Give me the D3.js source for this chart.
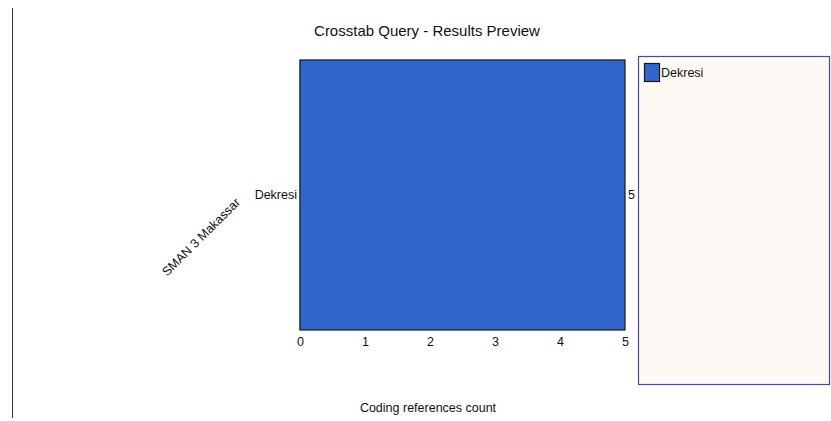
<!DOCTYPE html>
<html><head><meta charset="utf-8">
<script src="https://cdn.jsdelivr.net/npm/d3@7"></script>
<style>body{margin:0;background:#fff;} text{font-family:"Liberation Sans",Arial,sans-serif;fill:#111;}</style>
</head><body>
<svg id="c" width="831" height="421"></svg>
<script>
const title = "Crosstab Query - Results Preview";
const groups = ["SMAN 3 Makassar"];
const categories = ["Dekresi"];
const values = [5];
const xTicks = [0, 1, 2, 3, 4, 5];
const xTitle = "Coding references count";
const seriesNames = ["Dekresi"];
const colors = ["#3366cc"];

const svg = d3.select("#c");
// left page border line
svg.append("line").attr("x1",12.5).attr("x2",12.5).attr("y1",8).attr("y2",418).attr("stroke","#333").attr("stroke-width",1);

const x = d3.scaleLinear().domain([0, 5]).range([300, 625]);
const y = d3.scaleBand().domain(categories).range([60, 330]).padding(0);

svg.append("text").attr("x",427).attr("y",36).attr("text-anchor","middle").style("font-size","15px").text(title);

// y axis line
svg.append("line").attr("x1",299.5).attr("x2",299.5).attr("y1",60).attr("y2",330).attr("stroke","#bbb");

svg.selectAll("rect.bar").data(values).enter().append("rect")
  .attr("x", x(0)).attr("y", (d,i)=>y(categories[i]))
  .attr("width", d=>x(d)-x(0)).attr("height", y.bandwidth())
  .attr("fill", colors[0]).attr("stroke","#1a1a1a").attr("stroke-width",1.2);

svg.selectAll("text.val").data(values).enter().append("text")
  .attr("x", d=>x(d)+3).attr("y",(d,i)=>y(categories[i])+y.bandwidth()/2+4)
  .style("font-size","12.5px").text(d=>d);

svg.selectAll("text.cat").data(categories).enter().append("text")
  .attr("x",297).attr("y",d=>y(d)+y.bandwidth()/2+4).attr("text-anchor","end")
  .style("font-size","12.5px").text(d=>d);

svg.append("text").attr("transform","translate(204,240) rotate(-45)").attr("text-anchor","middle")
  .style("font-size","12.5px").text(groups[0]);

const xa = svg.append("g").attr("transform","translate(0,332)")
  .call(d3.axisBottom(x).tickValues(xTicks).tickFormat(d3.format("d")).tickSize(0).tickPadding(5));
xa.select(".domain").remove();
xa.selectAll("text").style("font-size","12.5px").style("font-family","Liberation Sans, Arial, sans-serif").attr("fill","#111");

svg.append("text").attr("x",428).attr("y",412).attr("text-anchor","middle").style("font-size","12.5px").text(xTitle);

// legend
svg.append("rect").attr("x",638.5).attr("y",56.5).attr("width",191).attr("height",328)
  .attr("fill","#fdf9f4").attr("stroke","#4a47a3").attr("stroke-width",1.2);
const lg = svg.selectAll("g.leg").data(seriesNames).enter().append("g").attr("transform",(d,i)=>`translate(644,${63+i*20})`);
lg.append("rect").attr("x",0.5).attr("y",0.5).attr("width",15).attr("height",18).attr("fill",(d,i)=>colors[i]).attr("stroke","#1a1a1a").attr("stroke-width",1.2);
lg.append("text").attr("x",17).attr("y",14).style("font-size","12.5px").text(d=>d);
</script>
</body></html>
